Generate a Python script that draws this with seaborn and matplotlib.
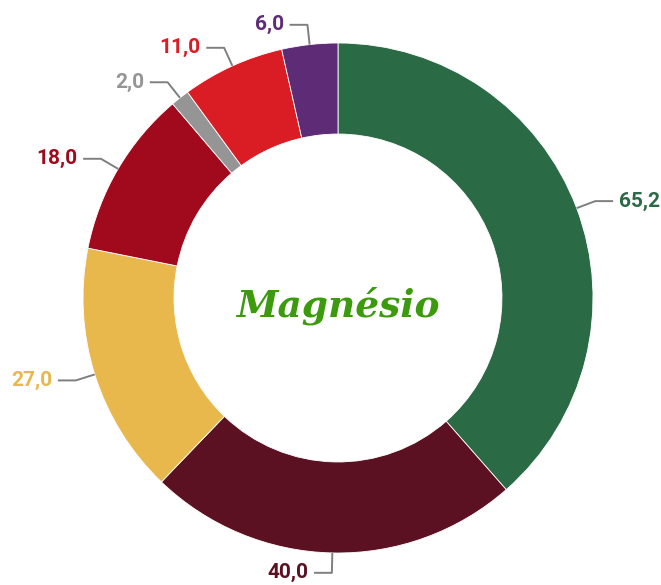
import numpy as np
import matplotlib
matplotlib.use('Agg')
import matplotlib.pyplot as plt
import seaborn as sns

values = [65.2, 40.0, 27.0, 18.0, 2.0, 11.0, 6.0]
labels = ['65,2', '40,0', '27,0', '18,0', '2,0', '11,0', '6,0']
colors = ['#2a6a44', '#5b1121', '#e8b84d', '#a10a1c', '#959595', '#da1c24', '#5e2b77']
title = 'Magnésio'

sns.set_style('white')
plt.rcParams['font.family'] = ['Roboto', 'DejaVu Sans']

fig = plt.figure(figsize=(6.61, 5.85), dpi=100)
ax = fig.add_axes([0, 0, 1, 1])
wedges, _ = ax.pie(values, colors=colors, startangle=90, counterclock=False, radius=1,
                   wedgeprops=dict(width=0.357, edgecolor='white', linewidth=0.6))
ax.set_xlim(-338 / 255, 323 / 255)
ax.set_ylim(-287 / 255, 298 / 255)
ax.axis('off')

# leader lines + value labels
for w, lab, c in zip(wedges, labels, colors):
    ang = np.deg2rad((w.theta1 + w.theta2) / 2)
    cx, cy = np.cos(ang), np.sin(ang)
    x1, y1 = 1.078 * cx, 1.078 * cy
    sign = 1 if cx > 0 else -1
    x2 = x1 + sign * 0.07
    ax.plot([cx, x1, x2], [cy, y1, y1], color='#7f7f7f', lw=1.4, solid_capstyle='butt')
    ax.text(x2 + sign * 0.022, y1, lab, ha='left' if sign > 0 else 'right', va='center',
            color=c, fontsize=15, fontweight='bold')

ax.text(0, -0.03, title, ha='center', va='center', fontsize=27, color='#3c9b0c',
        style='italic', fontweight='bold', family=['DejaVu Serif'])

fig.savefig('out.png', dpi=100)
